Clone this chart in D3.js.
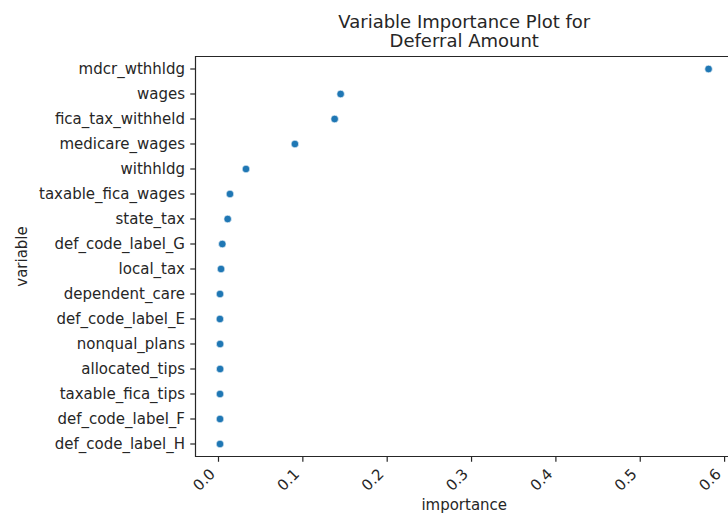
<!DOCTYPE html>
<html>
<head>
<meta charset="utf-8">
<script src="https://cdn.jsdelivr.net/npm/d3@7/dist/d3.min.js"></script>
<style>
  html, body { margin: 0; padding: 0; background: #fff; }
  svg { display: block; font-family: "DejaVu Sans", sans-serif; }
</style>
</head>
<body>
<svg id="chart" width="728" height="516"></svg>
<script>
// Feature names, top to bottom
const variables = [
  "mdcr_wthhldg", "wages", "fica_tax_withheld", "medicare_wages", "withhldg",
  "taxable_fica_wages", "state_tax", "def_code_label_G", "local_tax",
  "dependent_care", "def_code_label_E", "nonqual_plans", "allocated_tips",
  "taxable_fica_tips", "def_code_label_F", "def_code_label_H"
];
// Importance score for each feature
const importance = [
  0.581, 0.1448, 0.1377, 0.0906, 0.0326,
  0.0136, 0.0109, 0.0045, 0.0030,
  0.0018, 0.0017, 0.0019, 0.0019,
  0.0018, 0.0018, 0.0018
];
const xTicks = [0.0, 0.1, 0.2, 0.3, 0.4, 0.5, 0.6];
const titleLines = ["Variable Importance Plot for", "Deferral Amount"];
const xLabel = "importance";
const yLabel = "variable";

const data = variables.map((v, i) => ({ variable: v, importance: importance[i] }));

const svg = d3.select("#chart");
const plot = { left: 195.5, right: 733, top: 56.5, bottom: 456.5 };
const tickLen = 5.25, tickPad = 5.25, fontSize = 15;
const ink = "#262626";

// 5% margin around the data range on x
const lo = d3.min(importance), hi = d3.max(importance);
const pad = 0.05 * (hi - lo);
const x = d3.scaleLinear().domain([lo - pad, hi + pad]).range([plot.left, plot.right]);
const y = d3.scalePoint().domain(variables).range([plot.top, plot.bottom]).padding(0.5);

// y axis ticks and labels
const yAxis = svg.append("g");
variables.forEach(v => {
  yAxis.append("line")
    .attr("x1", plot.left - tickLen).attr("x2", plot.left)
    .attr("y1", y(v)).attr("y2", y(v))
    .attr("stroke", ink).attr("stroke-width", 1.2);
  yAxis.append("text")
    .attr("x", plot.left - tickLen - tickPad)
    .attr("y", y(v))
    .attr("dy", "0.35em")
    .attr("text-anchor", "end")
    .attr("font-size", fontSize)
    .attr("fill", ink)
    .text(v);
});

// x axis ticks and rotated labels
const xAxis = svg.append("g");
xTicks.forEach(t => {
  const px = x(t);
  xAxis.append("line")
    .attr("x1", px).attr("x2", px)
    .attr("y1", plot.bottom).attr("y2", plot.bottom + tickLen)
    .attr("stroke", ink).attr("stroke-width", 1.2);
  const ax = px - 2.5, ay = plot.bottom + tickLen + tickPad + 8;
  xAxis.append("text")
    .attr("transform", `translate(${ax},${ay}) rotate(-45)`)
    .attr("text-anchor", "end")
    .attr("font-size", fontSize)
    .attr("fill", ink)
    .text(d3.format(".1f")(t));
});

// spines: left, top, bottom (right edge lies beyond the canvas)
const spine = svg.append("g").attr("stroke", ink).attr("stroke-width", 1.2).attr("fill", "none");
spine.append("path").attr("d", `M${plot.left},${plot.top}V${plot.bottom}H${plot.right}V${plot.top}Z`);

// points
svg.append("g").selectAll("circle").data(data).join("circle")
  .attr("cx", d => x(d.importance))
  .attr("cy", d => y(d.variable))
  .attr("r", 3.8)
  .attr("fill", "#1f77b4")
  .attr("stroke", "#ffffff")
  .attr("stroke-width", 0.6);

// title
const cx = (plot.left + plot.right) / 2;
svg.append("text")
  .attr("x", cx).attr("y", 27.8)
  .attr("text-anchor", "middle").attr("font-size", 18).attr("fill", ink)
  .selectAll("tspan").data(titleLines).join("tspan")
  .attr("x", cx).attr("dy", (d, i) => i === 0 ? 0 : 19.2)
  .text(d => d);

// axis labels
svg.append("text")
  .attr("x", cx).attr("y", 510)
  .attr("text-anchor", "middle").attr("font-size", fontSize).attr("fill", ink)
  .text(xLabel);
svg.append("text")
  .attr("transform", `translate(27,${(plot.top + plot.bottom) / 2}) rotate(-90)`)
  .attr("text-anchor", "middle").attr("font-size", fontSize).attr("fill", ink)
  .text(yLabel);
</script>
</body>
</html>
